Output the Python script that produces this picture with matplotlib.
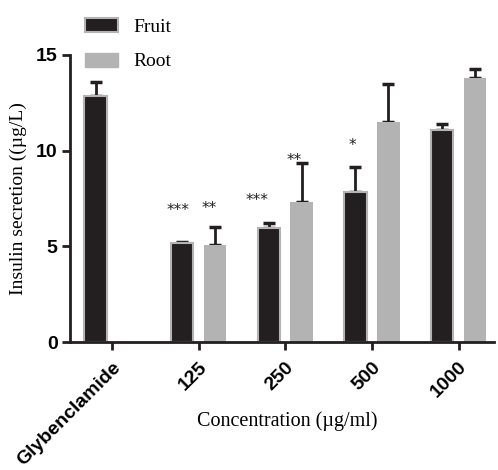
import numpy as np
import matplotlib.pyplot as plt
from matplotlib.patches import Patch

categories = ["Glybenclamide", "125", "250", "500", "1000"]
fruit = [12.86, 5.17, 5.94, 7.86, 11.08]
fruit_err = [0.74, 0.07, 0.26, 1.30, 0.32]
root = [np.nan, 5.07, 7.33, 11.52, 13.80]
root_err = [np.nan, 0.96, 2.01, 1.97, 0.45]
fruit_stars = ["", "***", "***", "*", ""]
root_stars = ["", "**", "**", "", ""]
# heights where the significance marks sit
fruit_star_y = [0, 6.85, 7.4, 10.25, 0]
root_star_y = [0, 7.0, 9.5, 0, 0]

fig = plt.figure(figsize=(4.98, 4.70), dpi=100)
ax = fig.add_axes([0.1406, 0.2723, 0.8514, 0.6107])

x = np.arange(len(categories))
w = 0.26
off = 0.19
black = "#231f20"
grey = "#b3b3b3"

ax.bar(x - off, fruit, w, color=black, edgecolor=grey, linewidth=1.5, zorder=2)
ax.bar(x + off, root, w, color=grey, edgecolor=grey, linewidth=0, zorder=2)
ax.errorbar(x - off, fruit, yerr=[np.zeros(5), fruit_err], fmt="none",
            ecolor=black, elinewidth=2, capsize=4, capthick=2.5, zorder=1)
ax.errorbar(x + off, root, yerr=[np.zeros(5), root_err], fmt="none",
            ecolor=black, elinewidth=2, capsize=4, capthick=2.5, zorder=1)

star_font = dict(ha="center", va="center", fontsize=11, color=black, family="DejaVu Sans")
fruit_star_dx = [0, -0.05, -0.14, -0.04, 0]
root_star_dx = [0, -0.07, -0.09, 0, 0]
for i in range(len(categories)):
    if fruit_stars[i]:
        ax.text(x[i] - off + fruit_star_dx[i], fruit_star_y[i], fruit_stars[i], **star_font)
    if root_stars[i]:
        ax.text(x[i] + off + root_star_dx[i], root_star_y[i], root_stars[i], **star_font)

ax.set_xlim(-0.485, 4.41)
ax.set_ylim(0, 15)
ax.set_yticks([0, 5, 10, 15])
ax.set_xticks(x)
ax.set_xticklabels(categories, rotation=45, ha="right", rotation_mode="anchor",
                   fontsize=14, fontweight="bold", family="Liberation Sans")
for lab in ax.get_yticklabels():
    lab.set_fontsize(14)
    lab.set_fontweight("bold")
    lab.set_family("Liberation Sans")

ax.spines["right"].set_visible(False)
ax.spines["top"].set_visible(False)
ax.spines["left"].set_linewidth(2)
ax.spines["bottom"].set_linewidth(2)
ax.spines["left"].set_color(black)
ax.spines["bottom"].set_color(black)
ax.tick_params(axis="both", width=2, length=6, color=black, pad=3)
ax.tick_params(axis="x", pad=6)

ax.set_ylabel("Insulin secretion ((µg/L)", family="Liberation Serif", fontsize=14, labelpad=6)
ax.set_xlabel("Concentration (µg/ml)", family="Liberation Serif", fontsize=14.5)
ax.xaxis.set_label_coords(0.512, -0.24)

handles = [Patch(facecolor=black, edgecolor=grey, linewidth=1.5, label="Fruit"),
           Patch(facecolor=grey, edgecolor=grey, label="Root")]
fig.legend(handles=handles, loc="upper left", bbox_to_anchor=(0.155, 0.978), frameon=False,
           prop={"family": "Liberation Serif", "size": 14}, handlelength=1.7, handleheight=0.75,
           labelspacing=0.85, handletextpad=0.8, borderaxespad=0)

fig.savefig("out.png", dpi=100)
